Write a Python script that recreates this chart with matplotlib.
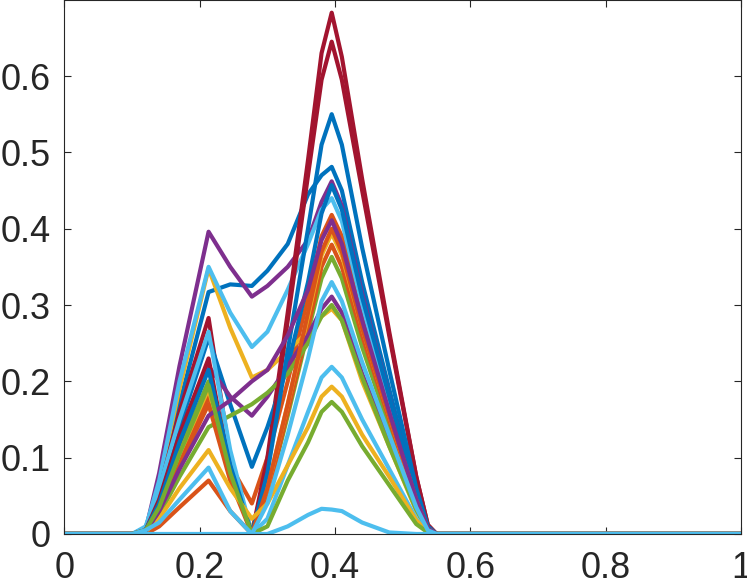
import numpy as np
import matplotlib.pyplot as plt

# common x knots (same for every curve)
x = [0, 0.10, 0.12, 0.14, 0.17, 0.213, 0.245, 0.277, 0.30, 0.33, 0.36, 0.38, 0.395, 0.41, 0.44, 0.48, 0.52, 0.537, 0.55, 1.0]

# curves, grouped by colour
blue = [
    [0, 0, .005, .06, .17, .317, .327, .325, .345, .38, .445, .47, .481, .45, .33, .19, .05, .008, 0, 0],
    [0, 0, .005, .05, .14, .257, .17, .088, .14, .22, .33, .42, .457, .425, .31, .18, .05, .008, 0, 0],
    [0, 0, .005, .04, .12, .215, .09, 0, .08, .24, .40, .51, .55, .51, .375, .215, .06, .01, 0, 0],
]
orange = [
    [0, 0, .005, .035, .10, .18, .09, .04, .10, .20, .31, .39, .418, .39, .285, .165, .045, .008, 0, 0],
    [0, 0, 0, .01, .035, .07, .03, 0, .05, .16, .27, .35, .379, .35, .26, .15, .04, .006, 0, 0],
    [0, 0, .005, .03, .09, .17, .07, 0, .06, .17, .29, .37, .40, .37, .27, .155, .045, .007, 0, 0],
]
yellow = [
    [0, 0, .005, .07, .19, .348, .27, .205, .215, .24, .265, .285, .295, .28, .20, .115, .03, .005, 0, 0],
    [0, 0, .005, .035, .105, .19, .08, .005, .06, .17, .285, .365, .394, .365, .27, .155, .045, .007, 0, 0],
    [0, 0, .003, .02, .06, .11, .06, .02, .04, .09, .14, .18, .193, .18, .13, .075, .018, .003, 0, 0],
]
purple = [
    [0, 0, .005, .08, .22, .396, .35, .311, .325, .35, .385, .435, .462, .43, .315, .18, .05, .008, 0, 0],
    [0, 0, .005, .04, .12, .22, .18, .155, .18, .22, .26, .295, .311, .29, .21, .12, .035, .005, 0, 0],
    [0, 0, .003, .03, .085, .155, .175, .20, .215, .26, .32, .385, .411, .38, .28, .16, .045, .007, 0, 0],
]
green = [
    [0, 0, .005, .04, .11, .20, .085, 0, .05, .155, .265, .335, .363, .335, .245, .14, .04, .006, 0, 0],
    [0, 0, .003, .025, .075, .14, .155, .17, .185, .21, .25, .285, .30, .28, .205, .115, .032, .005, 0, 0],
    [0, 0, .005, .035, .105, .195, .08, 0, .01, .07, .12, .16, .173, .16, .115, .064, .013, .002, 0, 0],
]
lightblue = [
    [0, 0, .008, .07, .20, .35, .29, .245, .265, .32, .38, .425, .44, .41, .30, .17, .05, .008, 0, 0],
    [0, 0, .01, .06, .15, .265, .11, 0, .02, .09, .16, .205, .219, .205, .15, .085, .02, .003, 0, 0],
    [0, 0, .005, .015, .045, .087, .03, 0, .04, .13, .23, .305, .33, .305, .225, .13, .035, .005, 0, 0],
]
darkred = [
    [0, 0, .008, .055, .16, .283, .10, 0, .10, .29, .49, .63, .683, .625, .465, .265, .075, .012, 0, 0],
    [0, 0, .005, .045, .13, .23, .08, 0, .09, .28, .47, .595, .645, .595, .45, .26, .075, .012, 0, 0],
]
# small bump curve drawn last
bump = [0, 0, 0, 0, 0, 0, 0, 0, 0, .01, .025, .033, .032, .03, .015, .002, 0, 0, 0, 0]

colors = {'blue': '#0072BD', 'orange': '#D95319', 'yellow': '#EDB120',
          'purple': '#7E2F8E', 'green': '#77AC30', 'lightblue': '#4DBEEE',
          'darkred': '#A2142F'}

plt.rcParams['font.family'] = ['Liberation Sans', 'DejaVu Sans']

fig = plt.figure(figsize=(7.47, 5.85), dpi=100)
ax = fig.add_axes([0.0863, 0.0872, 0.9057, 0.9120])

groups = [('blue', blue), ('orange', orange), ('yellow', yellow), ('purple', purple),
          ('green', green), ('lightblue', lightblue), ('darkred', darkred)]
for i in range(3):
    for name, lines in groups:
        if i < len(lines):
            ax.plot(x, lines[i], color=colors[name], lw=3, solid_joinstyle='round')
ax.plot(x, bump, color=colors['lightblue'], lw=3, solid_joinstyle='round')

ax.set_xlim(0, 1)
ax.set_ylim(0, 0.699)
ax.set_xticks([0, 0.2, 0.4, 0.6, 0.8, 1])
ax.set_xticklabels(['0', '0.2', '0.4', '0.6', '0.8', '1'])
ax.set_yticks([0, 0.1, 0.2, 0.3, 0.4, 0.5, 0.6])
ax.set_yticklabels(['0', '0.1', '0.2', '0.3', '0.4', '0.5', '0.6'])
ax.tick_params(direction='in', length=5, width=0.8, colors='#262626',
               labelsize=26, top=True, right=True)
ax.tick_params(axis='y', pad=10)
ax.tick_params(axis='x', pad=12)
for s in ax.spines.values():
    s.set_color('#262626')
    s.set_linewidth(0.8)

plt.savefig('out.png', dpi=100)
